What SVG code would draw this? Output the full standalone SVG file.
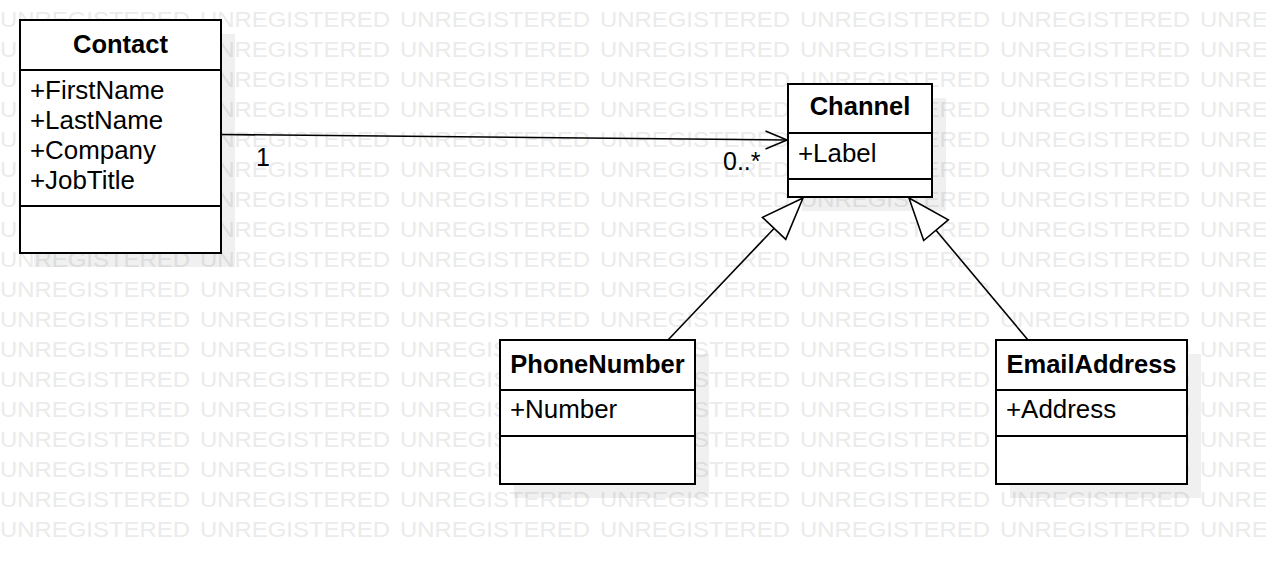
<svg xmlns="http://www.w3.org/2000/svg" xmlns:xlink="http://www.w3.org/1999/xlink" width="1266" height="564" viewBox="0 0 1266 564">
<style>
.wm{font-family:"Liberation Sans",Arial,sans-serif;font-size:22px;fill:#ebebeb}
.box{fill:#fff;stroke:#000;stroke-width:2}
.sep{stroke:#000;stroke-width:2}
.shadow{fill:#000;fill-opacity:0.06}
.title{font-family:"Liberation Sans",Arial,sans-serif;font-size:25.5px;font-weight:bold;text-anchor:middle;fill:#000}
.attr{font-family:"Liberation Sans",Arial,sans-serif;font-size:25.9px;fill:#000}
.lbl{font-family:"Liberation Sans",Arial,sans-serif;font-size:25px;fill:#000}
.edge{fill:none;stroke:#000;stroke-width:1.6}
.tri{fill:#fff;stroke:#000;stroke-width:1.6}
</style>
<defs>
<g id="wmrow">
<text class="wm" x="0" textLength="190" lengthAdjust="spacingAndGlyphs">UNREGISTERED</text>
<text class="wm" x="200" textLength="190" lengthAdjust="spacingAndGlyphs">UNREGISTERED</text>
<text class="wm" x="400" textLength="190" lengthAdjust="spacingAndGlyphs">UNREGISTERED</text>
<text class="wm" x="600" textLength="190" lengthAdjust="spacingAndGlyphs">UNREGISTERED</text>
<text class="wm" x="800" textLength="190" lengthAdjust="spacingAndGlyphs">UNREGISTERED</text>
<text class="wm" x="1000" textLength="190" lengthAdjust="spacingAndGlyphs">UNREGISTERED</text>
<text class="wm" x="1200" textLength="190" lengthAdjust="spacingAndGlyphs">UNREGISTERED</text>
</g>
</defs>
<rect width="1266" height="564" fill="#fff"/>
<g id="watermark">
<use xlink:href="#wmrow" y="27"/>
<use xlink:href="#wmrow" y="57"/>
<use xlink:href="#wmrow" y="87"/>
<use xlink:href="#wmrow" y="117"/>
<use xlink:href="#wmrow" y="147"/>
<use xlink:href="#wmrow" y="177"/>
<use xlink:href="#wmrow" y="207"/>
<use xlink:href="#wmrow" y="237"/>
<use xlink:href="#wmrow" y="267"/>
<use xlink:href="#wmrow" y="297"/>
<use xlink:href="#wmrow" y="327"/>
<use xlink:href="#wmrow" y="357"/>
<use xlink:href="#wmrow" y="387"/>
<use xlink:href="#wmrow" y="417"/>
<use xlink:href="#wmrow" y="447"/>
<use xlink:href="#wmrow" y="477"/>
<use xlink:href="#wmrow" y="507"/>
<use xlink:href="#wmrow" y="537"/>
</g>
<g id="shadows">
<rect class="shadow" x="34" y="34" width="201" height="233"/>
<rect class="shadow" x="802" y="98" width="144" height="113"/>
<rect class="shadow" x="514" y="354" width="195" height="144"/>
<rect class="shadow" x="1010" y="354" width="191" height="144"/>
</g>
<g id="connectors">
<line class="edge" x1="221" y1="134.5" x2="787" y2="140"/>
<polyline class="edge" points="765.5,131 787,140 765.5,149"/>
<text class="lbl" x="256" y="166">1</text>
<text class="lbl" x="723" y="170">0..*</text>
<line class="edge" x1="668" y1="340" x2="774" y2="228.5"/>
<polygon class="tri" points="803,198 762.5,217.4 785.7,239.4"/>
<line class="edge" x1="1028" y1="340" x2="936" y2="230.2"/>
<polygon class="tri" points="909,198 948.3,219.9 923.7,240.5"/>
</g>
<g id="Contact">
<rect class="box" x="20" y="20" width="201" height="233"/>
<line class="sep" x1="20" y1="70" x2="221" y2="70"/>
<line class="sep" x1="20" y1="206" x2="221" y2="206"/>
<text class="title" x="120.5" y="53">Contact</text>
<text class="attr" x="30" y="99">+FirstName</text>
<text class="attr" x="30" y="129">+LastName</text>
<text class="attr" x="30" y="159">+Company</text>
<text class="attr" x="30" y="189">+JobTitle</text>
</g>
<g id="Channel">
<rect class="box" x="788" y="84" width="144" height="113"/>
<line class="sep" x1="788" y1="133" x2="932" y2="133"/>
<line class="sep" x1="788" y1="179" x2="932" y2="179"/>
<text class="title" x="860" y="115">Channel</text>
<text class="attr" x="798" y="162">+Label</text>
</g>
<g id="PhoneNumber">
<rect class="box" x="500" y="340" width="195" height="144"/>
<line class="sep" x1="500" y1="390" x2="695" y2="390"/>
<line class="sep" x1="500" y1="436" x2="695" y2="436"/>
<text class="title" x="597.5" y="373">PhoneNumber</text>
<text class="attr" x="510" y="418">+Number</text>
</g>
<g id="EmailAddress">
<rect class="box" x="996" y="340" width="191" height="144"/>
<line class="sep" x1="996" y1="390" x2="1187" y2="390"/>
<line class="sep" x1="996" y1="436" x2="1187" y2="436"/>
<text class="title" x="1091.5" y="373">EmailAddress</text>
<text class="attr" x="1006" y="418">+Address</text>
</g>
</svg>
